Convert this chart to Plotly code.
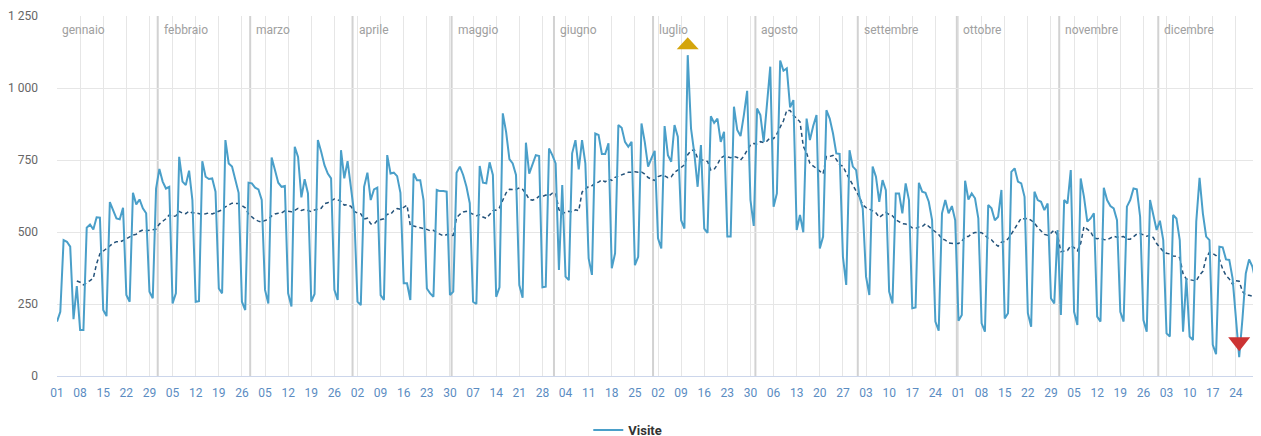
import pandas as pd
import numpy as np
import plotly.graph_objects as go

# Daily visits 2022
jan = [189, 223, 472, 466, 449, 197, 312, 160, 160, 515, 526, 509, 551, 550, 229, 208, 604, 576, 547, 544,
       584, 281, 258, 636, 596, 613, 582, 565, 293, 270, 651]
feb = [719, 675, 651, 657, 252, 287, 761, 675, 663, 713, 611, 258, 260, 746, 692, 684, 686, 640, 304, 287,
       819, 738, 727, 680, 636, 258, 229, 671]
mar = [669, 654, 648, 611, 299, 252, 759, 715, 671, 657, 660, 287, 241, 796, 761, 620, 683, 634, 258, 285,
       819, 779, 732, 703, 686, 299, 264, 784, 686, 746, 657]
apr = [565, 258, 246, 657, 706, 611, 648, 654, 281, 264, 767, 703, 706, 694, 636, 322, 322, 264, 703, 680,
       680, 611, 304, 287, 275, 646, 642, 642, 640, 281]
may = [293, 706, 727, 698, 657, 600, 258, 250, 729, 671, 669, 742, 698, 275, 308, 912, 848, 753, 738, 698,
       316, 272, 810, 703, 738, 767, 764, 308, 310, 790, 767]
jun = [738, 368, 663, 345, 333, 773, 819, 717, 819, 738, 408, 351, 842, 837, 771, 771, 808, 374, 426, 871,
       862, 813, 796, 813, 385, 414, 877, 812, 727, 756]
jul = [782, 478, 443, 868, 767, 744, 871, 831, 541, 512, 1114, 860, 773, 657, 802, 512, 497, 902, 879, 894,
       813, 848, 484, 484, 935, 854, 833, 906, 990, 611, 521]
aug = [929, 906, 813, 940, 1074, 588, 634, 1095, 1060, 1068, 933, 958, 507, 559, 499, 894, 819, 868, 906, 443,
       484, 923, 894, 842, 773, 771, 414, 316, 784, 727, 715]
sep = [623, 582, 345, 281, 727, 692, 605, 680, 645, 293, 252, 634, 634, 565, 669, 611, 235, 238, 671, 640,
       636, 605, 541, 189, 157, 565, 611, 565, 590, 541]
oct_ = [192, 212, 678, 613, 634, 617, 547, 183, 154, 594, 582, 541, 553, 646, 200, 218, 709, 721, 675, 669,
        622, 218, 171, 640, 611, 605, 576, 599, 270, 252, 507]
nov = [212, 611, 599, 715, 223, 177, 686, 622, 536, 547, 565, 206, 189, 654, 611, 590, 582, 541, 223, 189,
       588, 611, 651, 648, 553, 194, 154, 611, 553, 507]
dec = [539, 472, 148, 137, 559, 547, 472, 154, 339, 137, 125, 536, 688, 565, 484, 472, 108, 76, 449, 447,
       405, 403, 339, 194, 65, 200, 356, 405, 380, 327, 125]

visits = jan + feb + mar + apr + may + jun + jul + aug + sep + oct_ + nov + dec
dates = pd.date_range("2022-01-01", periods=len(visits), freq="D")

month_names = ["gennaio", "febbraio", "marzo", "aprile", "maggio", "giugno",
               "luglio", "agosto", "settembre", "ottobre", "novembre", "dicembre"]
month_starts = pd.date_range("2022-01-01", periods=12, freq="MS")
tick_dates = pd.date_range("2022-01-01", "2022-12-24", freq="7D")
tick_labels = [d.strftime("%d") for d in tick_dates]

y_ticks = [0, 250, 500, 750, 1000, 1250]
y_labels = ["0", "250", "500", "750", "1 000", "1 250"]

s = pd.Series(visits, index=dates)
trend = s.rolling(7).mean()

LINE = "#4a9fc9"
DASH = "#23527a"

fig = go.Figure()
fig.add_trace(go.Scatter(x=dates, y=trend.values, mode="lines", name="media",
                         line=dict(color=DASH, width=1.5, dash="4px,3px"),
                         showlegend=False, hoverinfo="skip"))
fig.add_trace(go.Scatter(x=dates, y=visits, mode="lines", name="Visite",
                         line=dict(color=LINE, width=2)))

shapes = []
annotations = []
for i, (ms, name) in enumerate(zip(month_starts, month_names)):
    xpos = ms - pd.Timedelta(hours=12)
    if i > 0:
        shapes.append(dict(type="line", xref="x", yref="paper", x0=xpos, x1=xpos, y0=0, y1=1,
                           line=dict(color="#d2d2d2", width=2), layer="below"))
        ax, sh = xpos, 4
    else:
        ax, sh = ms, 3
    annotations.append(dict(x=ax, y=1, xref="x", yref="paper", text=name, showarrow=False,
                            xanchor="left", yanchor="top", xshift=sh, yshift=-5,
                            font=dict(color="#a0a0a0", size=12, family="Roboto")))

imax = int(np.argmax(visits))
imin = int(np.argmin(visits))
shapes.append(dict(type="path", xref="x", yref="y", xsizemode="pixel", ysizemode="pixel",
                   xanchor=dates[imax], yanchor=visits[imax],
                   path="M -11 6 L 11 6 L 0 18 Z", fillcolor="#d4a50c", line=dict(width=0)))
shapes.append(dict(type="path", xref="x", yref="y", xsizemode="pixel", ysizemode="pixel",
                   xanchor=dates[imin], yanchor=visits[imin],
                   path="M -11 20 L 11 20 L 0 6 Z", fillcolor="#cc3333", line=dict(width=0)))

# page body has an 8px default margin: compensate so the plot sits at the same place
fig.update_layout(
    width=1253, height=444,
    margin=dict(l=49, r=2, t=8, b=76),
    paper_bgcolor="white", plot_bgcolor="white",
    font=dict(family="Roboto", size=12, color="#666666"),
    shapes=shapes, annotations=annotations,
    showlegend=True,
    legend=dict(orientation="h", x=0.442, xanchor="left", y=-0.15, yanchor="middle",
                font=dict(size=13, color="#333333", weight="bold"), itemwidth=30),
    xaxis=dict(type="date", range=[dates[0], dates[-1]], tickvals=tick_dates, ticktext=tick_labels,
               showgrid=True, gridcolor="#e6e6e6", gridwidth=1, showline=True, linecolor="#ccd6eb",
               linewidth=1, ticks="", ticklabelstandoff=6, zeroline=False, automargin=False,
               tickfont=dict(color="#5b8cc2", size=12, family="Roboto")),
    yaxis=dict(range=[0, 1250], tickvals=y_ticks, ticktext=y_labels, showgrid=True,
               gridcolor="#e6e6e6", gridwidth=1, zeroline=False, showline=False, ticks="",
               ticklabelstandoff=18, automargin=False,
               tickfont=dict(color="#666666", size=12, family="Roboto")),
)

fig.write_html("out.html")
